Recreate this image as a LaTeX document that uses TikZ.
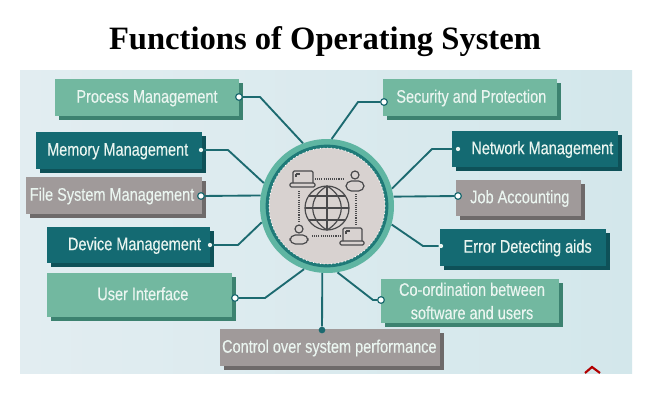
\documentclass[tikz,border=0pt]{standalone}
\usepackage{fontspec}
\setmainfont{Liberation Sans}
\newfontfamily\titlefont{Liberation Serif}
\newfontfamily\boxfont[FakeStretch=0.8,FakeBold=0.25]{Liberation Sans}
\usetikzlibrary{shadows}
\definecolor{bggrn}{HTML}{72B8A0}\definecolor{shgrn}{HTML}{3C8270}
\definecolor{bgtea}{HTML}{146A72}\definecolor{shtea}{HTML}{0E5158}
\definecolor{bggry}{HTML}{A09A9A}\definecolor{shgry}{HTML}{6E6A6A}
\definecolor{wire}{HTML}{1C6A70}\definecolor{txt}{HTML}{EAF5F0}
\definecolor{icon}{HTML}{4A4A4C}
\definecolor{hubfill}{HTML}{D8D2D0}\definecolor{ringa}{HTML}{5FB5A2}\definecolor{ringb}{HTML}{1F7A78}
\definecolor{bgl}{HTML}{E2EDF1}\definecolor{bgm}{HTML}{EFF7F7}\definecolor{bgr}{HTML}{D3E7EB}
\tikzset{
 x=0.75pt,y=-0.75pt,
 tag/.style={rectangle,inner sep=0pt,align=center,text=txt,text height=10pt,text depth=2.2pt,font=\boxfont\fontsize{13.6}{17.5}\selectfont},
 grn/.style={tag,fill=bggrn,general shadow={fill=shgrn,shadow xshift=3pt,shadow yshift=-3pt}},
 tea/.style={tag,fill=bgtea,general shadow={fill=shtea,shadow xshift=3pt,shadow yshift=-3pt}},
 gry/.style={tag,fill=bggry,general shadow={fill=shgry,shadow xshift=3pt,shadow yshift=-3pt}},
 twolines/.style={text height=,text depth=},
 pin/.style={circle,inner sep=0pt,minimum size=5pt,fill=white,draw=wire,line width=0.9pt},
 pinw/.style={circle,inner sep=0pt,minimum size=3.2pt,fill=txt},
 wirel/.style={draw=wire,line width=1.4pt,line join=round},
 ico/.style={draw=icon,line width=0.9pt,line join=round},
 dots/.style={draw=icon,line width=1.1pt,dash pattern=on 0.8pt off 0.8pt},
}
\newcommand{\tagbox}[7]{% name style x0 y0 x1 y1 text
 \pgfmathsetmacro{\boxw}{(#5-#3)*0.75}\pgfmathsetmacro{\boxh}{(#6-#4)*0.75}
 \node[#2,minimum width=\boxw pt,minimum height=\boxh pt] (#1) at ({(#3+#5)/2},{(#4+#6)/2}) {#7};}
\begin{document}
\begin{tikzpicture}
\useasboundingbox (0,0) rectangle (650,400);
\fill[white] (0,0) rectangle (650,400);
\node[font=\titlefont\bfseries\fontsize{24.45}{28}\selectfont,text=black] (title) at (325,42) {Functions of Operating System};
\shade[left color=bgl,middle color=bgm,right color=bgr] (20,70) rectangle (632,373);
% boxes
\tagbox{p}{grn}{55}{79}{239}{116}{Process Management}
\tagbox{m}{tea}{36}{132}{202}{169}{\hspace*{-2pt}Memory Management}
\tagbox{f}{gry}{26}{177}{202}{214}{\hspace*{-3pt}File System Management}
\tagbox{d}{tea}{47}{227}{210}{263}{\hspace*{9pt}Device Management}
\tagbox{u}{grn}{47}{273}{232}{317}{\hspace*{5pt}User Interface}
\tagbox{c}{gry}{220}{329}{440}{366}{\hspace*{-1pt}Control over system performance}
\tagbox{s}{grn}{383}{79}{557}{116}{\hspace*{2pt}Security and Protection}
\tagbox{n}{tea}{452}{131}{618}{167}{\hspace*{11pt}Network Management}
\tagbox{j}{gry}{456}{180}{581}{216}{\hspace*{2pt}Job Accounting}
\tagbox{e}{tea}{440}{229}{606}{266}{\hspace*{7pt}Error Detecting aids}
\tagbox{o}{grn,twolines}{381}{279}{559}{323}{\hspace*{3pt}Co-ordination between\\\hspace*{3pt}software and users}
% hub
\node[circle,inner sep=0pt,minimum size=100.5pt,fill=ringa] (hub) at (327,206) {};
\node[circle,inner sep=0pt,minimum size=92pt,fill=ringb] (ring) at (327,206) {};
\node[circle,inner sep=0pt,minimum size=87pt,fill=hubfill,draw=white,line width=0.7pt,dotted] (core) at (327,206) {};
% pins
\node[pin] (pp) at (239,97) {};
\node[pinw] (pm) at (201,150) {};
\node[pin] (pf) at (201,196) {};
\node[pinw] (pd) at (210,245) {};
\node[pin] (pu) at (235,298) {};
\node[circle,inner sep=0pt,minimum size=5pt,fill=wire] (pc) at (322,330) {};
\node[pin] (ps) at (384,102) {};
\node[pinw] (pn) at (458,149) {};
\node[pin] (pj) at (458,196) {};
\node[pinw] (pe) at (441,246) {};
\node[pin] (po) at (381,300) {};
% connectors
\draw[wirel] (pp) -- (260,97) -- (hub.111);
\draw[wirel] (pm) -- (228,150) -- (hub.160.7);
\draw[wirel] (pf) -- (hub.171);
\draw[wirel] (pd) -- (238,245) -- (hub.194);
\draw[wirel] (pu) -- (265,298) -- (hub.250);
\draw[wirel] (pc) -- (hub.266);
\draw[wirel] (ps) -- (358,102) -- (hub.86.5);
\draw[wirel] (pn) -- (432,149) -- (hub.15.5);
\draw[wirel] (pj) -- (hub.8.6);
\draw[wirel] (pe) -- (423,246) -- (hub.-16.5);
\draw[wirel] (po) -- (373,300) -- (hub.-81);
% globe
\begin{scope}[ico]
\draw (327,208) circle[radius=16.5pt];
\draw (327,186) -- (327,230) (305,208) -- (349,208);
\draw (309,196) -- (345,196) (309,220) -- (345,220);
\draw (327,186) .. controls (308,197) and (308,219) .. (327,230);
\draw (327,186) .. controls (346,197) and (346,219) .. (327,230);
% laptop, top left
\draw[rounded corners=1pt] (293,183) -- (293,171) -- (313,171) -- (313,183);
\draw[rounded corners=1pt] (290,183) rectangle (315,187);
\draw (296,174) -- (300,174) (296,174) -- (296,177);
% laptop, bottom right
\draw[rounded corners=1pt] (343,241) -- (343,228) -- (362,228) -- (362,241);
\draw[rounded corners=1pt] (340,241) rectangle (364,245);
\draw (346,231) -- (350,231) (346,231) -- (346,234);
% person, top right
\draw (355,175) circle[radius=3pt];
\draw[rounded corners=4pt] (346,191) rectangle (364,181);
% person, bottom left
\draw (299,229) circle[radius=3pt];
\draw[rounded corners=4pt] (290,244) rectangle (308,235);
\end{scope}
\draw[dots] (315,179) -- (344,179);
\draw[dots] (312,236) -- (340,236);
\draw[dots] (299,191) -- (299,222);
\draw[dots] (356,194) -- (356,225);
% corner mark
\begin{scope}
\clip (575,360) rectangle (610,373);
\draw[red!70!black,line width=1.6pt] (585,373) -- (592,367) -- (600,373);
\end{scope}
\end{tikzpicture}
\end{document}
